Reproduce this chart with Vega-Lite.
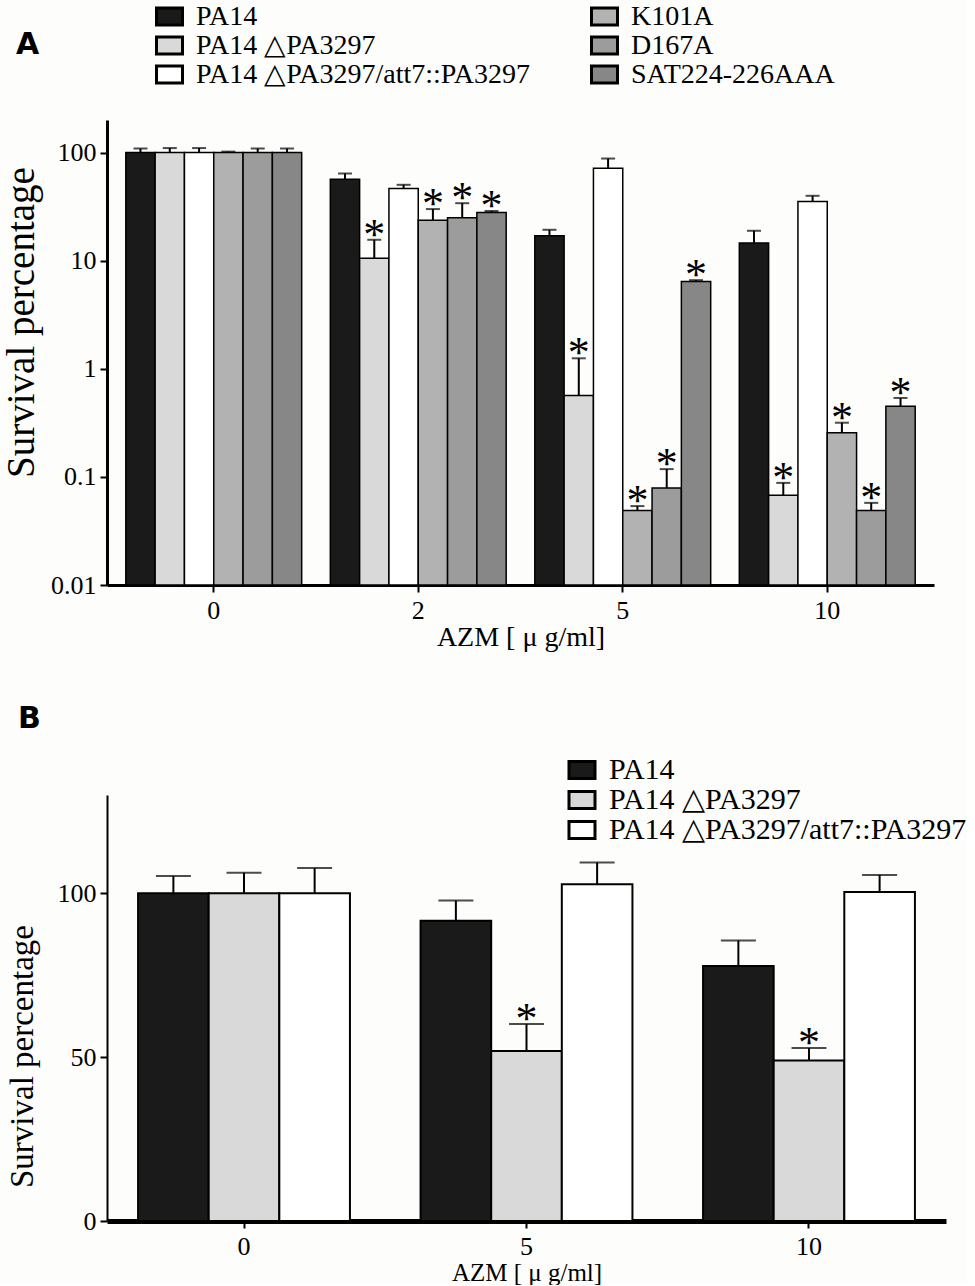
{
 "$schema": "https://vega.github.io/schema/vega-lite/v6.json",
 "background": "#fdfdfb",
 "padding": {"left": 2, "top": 2, "right": 0, "bottom": 0},
 "spacing": 53,
 "resolve": {"scale": {"x": "independent", "y": "independent", "xOffset": "independent", "color": "independent"}, "legend": {"color": "independent"}, "axis": {"x": "independent", "y": "independent"}},
 "config": {
  "view": {"stroke": null},
  "font": "Liberation Serif",
  "axis": {"grid": false, "domainColor": "black", "tickColor": "black", "labelColor": "black", "titleColor": "black", "labelFont": "Liberation Serif", "titleFont": "Liberation Serif", "titleFontWeight": "normal"},
  "legend": {"labelFont": "Liberation Serif", "labelColor": "black", "labelLimit": 0}
 },
 "datasets": {
  "a": [
   {"dose": "0", "strain": "PA14", "value": 100, "upper": 109, "sig": false},
   {"dose": "0", "strain": "PA14 △PA3297", "value": 100, "upper": 110, "sig": false},
   {"dose": "0", "strain": "PA14 △PA3297/att7::PA3297", "value": 100, "upper": 110, "sig": false},
   {"dose": "0", "strain": "K101A", "value": 100, "upper": 102, "sig": false},
   {"dose": "0", "strain": "D167A", "value": 100, "upper": 109, "sig": false},
   {"dose": "0", "strain": "SAT224-226AAA", "value": 100, "upper": 109, "sig": false},
   {"dose": "2", "strain": "PA14", "value": 56.7, "upper": 64, "sig": false},
   {"dose": "2", "strain": "PA14 △PA3297", "value": 10.5, "upper": 15.6, "sig": true},
   {"dose": "2", "strain": "PA14 △PA3297/att7::PA3297", "value": 46.5, "upper": 50.3, "sig": false},
   {"dose": "2", "strain": "K101A", "value": 23.7, "upper": 30, "sig": true},
   {"dose": "2", "strain": "D167A", "value": 24.9, "upper": 34, "sig": true},
   {"dose": "2", "strain": "SAT224-226AAA", "value": 27.9, "upper": 28.8, "sig": true},
   {"dose": "5", "strain": "PA14", "value": 17, "upper": 19.3, "sig": false},
   {"dose": "5", "strain": "PA14 △PA3297", "value": 0.566, "upper": 1.25, "sig": true},
   {"dose": "5", "strain": "PA14 △PA3297/att7::PA3297", "value": 71.6, "upper": 88, "sig": false},
   {"dose": "5", "strain": "K101A", "value": 0.049, "upper": 0.0537, "sig": true},
   {"dose": "5", "strain": "D167A", "value": 0.079, "upper": 0.118, "sig": true},
   {"dose": "5", "strain": "SAT224-226AAA", "value": 6.4, "upper": 6.6, "sig": true},
   {"dose": "10", "strain": "PA14", "value": 14.6, "upper": 18.9, "sig": false},
   {"dose": "10", "strain": "PA14 △PA3297", "value": 0.0676, "upper": 0.088, "sig": true},
   {"dose": "10", "strain": "PA14 △PA3297/att7::PA3297", "value": 35.3, "upper": 39.8, "sig": false},
   {"dose": "10", "strain": "K101A", "value": 0.256, "upper": 0.317, "sig": true},
   {"dose": "10", "strain": "D167A", "value": 0.049, "upper": 0.0575, "sig": true},
   {"dose": "10", "strain": "SAT224-226AAA", "value": 0.449, "upper": 0.537, "sig": true}
  ],
  "b": [
   {"dose": "0", "strain": "PA14", "value": 100, "upper": 105.3, "sig": false},
   {"dose": "0", "strain": "PA14 △PA3297", "value": 100, "upper": 106.3, "sig": false},
   {"dose": "0", "strain": "PA14 △PA3297/att7::PA3297", "value": 100, "upper": 107.7, "sig": false},
   {"dose": "5", "strain": "PA14", "value": 91.6, "upper": 97.8, "sig": false},
   {"dose": "5", "strain": "PA14 △PA3297", "value": 51.9, "upper": 60.1, "sig": true},
   {"dose": "5", "strain": "PA14 △PA3297/att7::PA3297", "value": 102.8, "upper": 109.4, "sig": false},
   {"dose": "10", "strain": "PA14", "value": 77.8, "upper": 85.6, "sig": false},
   {"dose": "10", "strain": "PA14 △PA3297", "value": 49.0, "upper": 52.8, "sig": true},
   {"dose": "10", "strain": "PA14 △PA3297/att7::PA3297", "value": 100.4, "upper": 105.6, "sig": false}
  ]
 },
 "vconcat": [
  {
   "width": 827,
   "height": 465,
   "data": {"name": "a"},
   "encoding": {
    "x": {"field": "dose", "type": "nominal", "sort": ["0", "2", "5", "10"], "scale": {"paddingInner": 0.14, "paddingOuter": 0.092},
     "axis": {"title": "AZM [ μ g/ml]", "labelAngle": 0, "labelFontSize": 26, "titleFontSize": 28, "domainWidth": 3, "tickWidth": 2, "tickSize": 7, "labelPadding": 5, "titlePadding": 0}},
    "xOffset": {"field": "strain", "type": "nominal", "sort": ["PA14", "PA14 △PA3297", "PA14 △PA3297/att7::PA3297", "K101A", "D167A", "SAT224-226AAA"], "scale": {"paddingInner": 0, "paddingOuter": 0}}
   },
   "layer": [
    {
     "mark": {"type": "bar", "stroke": "black", "strokeWidth": 1.5},
     "encoding": {
      "y": {"field": "value", "type": "quantitative", "stack": null, "scale": {"type": "log", "domain": [0.01, 200], "nice": false, "zero": false},
       "axis": {"title": "Survival percentage", "values": [0.01, 0.1, 1, 10, 100], "format": "~g", "labelFontSize": 26, "titleFontSize": 39, "titleY": 202, "domainWidth": 3, "tickWidth": 2, "tickSize": 7, "labelPadding": 4, "titlePadding": 9}},
      "color": {"field": "strain", "type": "nominal",
       "scale": {"domain": ["PA14", "PA14 △PA3297", "PA14 △PA3297/att7::PA3297", "K101A", "D167A", "SAT224-226AAA"], "range": ["#1a1a1a", "#d9d9d9", "#ffffff", "#b2b2b2", "#9c9c9c", "#878787"]},
       "legend": {"orient": "none", "legendX": -91, "legendY": -118, "columns": 2, "title": "A", "titleOrient": "left", "titleAnchor": "middle", "titleFont": "DejaVu Sans", "titleFontWeight": "bold", "titleFontSize": 30, "titleColor": "black", "titlePadding": 115, "labelFontSize": 28, "symbolType": "M-1,-0.65H1V0.65H-1Z", "symbolSize": 676, "symbolStrokeColor": "black", "symbolStrokeWidth": 3, "labelOffset": 12, "rowPadding": 0, "columnPadding": 55, "padding": 0}}
     }
    },
    {
     "mark": {"type": "rule", "color": "black", "strokeWidth": 2},
     "encoding": {"y": {"field": "value", "type": "quantitative"}, "y2": {"field": "upper"}}
    },
    {
     "mark": {"type": "tick", "color": "black", "size": 14, "thickness": 2},
     "encoding": {"y": {"field": "upper", "type": "quantitative"}}
    },
    {
     "transform": [{"filter": "datum.sig"}],
     "mark": {"type": "text", "text": "*", "fontSize": 44, "font": "Liberation Serif", "baseline": "alphabetic", "dy": 9, "color": "black"},
     "encoding": {"y": {"field": "upper", "type": "quantitative"}}
    }
   ]
  },
  {
   "width": 839,
   "height": 426,
   "title": {"text": "B", "anchor": "start", "frame": "bounds", "font": "DejaVu Sans", "fontWeight": "bold", "fontSize": 30, "offset": -9, "dx": 12, "baseline": "bottom", "color": "black"},
   "data": {"name": "b"},
   "encoding": {
    "x": {"field": "dose", "type": "nominal", "sort": ["0", "5", "10"], "scale": {"paddingInner": 0.25, "paddingOuter": 0.11},
     "axis": {"title": "AZM [ μ g/ml]", "labelAngle": 0, "labelFontSize": 26, "titleFontSize": 25, "domainWidth": 5, "tickWidth": 2, "tickSize": 7, "labelPadding": 5, "titlePadding": 1}},
    "xOffset": {"field": "strain", "type": "nominal", "sort": ["PA14", "PA14 △PA3297", "PA14 △PA3297/att7::PA3297"], "scale": {"paddingInner": 0, "paddingOuter": 0}}
   },
   "layer": [
    {
     "mark": {"type": "bar", "stroke": "black", "strokeWidth": 2},
     "encoding": {
      "y": {"field": "value", "type": "quantitative", "stack": null, "scale": {"domain": [0, 130], "nice": false},
       "axis": {"title": "Survival percentage", "values": [0, 50, 100], "labelFontSize": 26, "titleFontSize": 33, "titleY": 261, "domainWidth": 2, "tickWidth": 2, "tickSize": 7, "labelPadding": 4, "titlePadding": 18}},
      "color": {"field": "strain", "type": "nominal",
       "scale": {"domain": ["PA14", "PA14 △PA3297", "PA14 △PA3297/att7::PA3297"], "range": ["#1a1a1a", "#d9d9d9", "#ffffff"]},
       "legend": {"orient": "none", "legendX": 460, "legendY": -40, "title": null, "labelFontSize": 30, "symbolType": "M-1,-0.65H1V0.65H-1Z", "symbolSize": 676, "symbolStrokeColor": "black", "symbolStrokeWidth": 3, "labelOffset": 12, "rowPadding": -1, "padding": 0}}
     }
    },
    {
     "mark": {"type": "rule", "color": "black", "strokeWidth": 2},
     "encoding": {"y": {"field": "value", "type": "quantitative"}, "y2": {"field": "upper"}}
    },
    {
     "mark": {"type": "tick", "color": "black", "size": 35, "thickness": 2},
     "encoding": {"y": {"field": "upper", "type": "quantitative"}}
    },
    {
     "transform": [{"filter": "datum.sig"}],
     "mark": {"type": "text", "text": "*", "fontSize": 44, "font": "Liberation Serif", "baseline": "alphabetic", "dy": 9, "color": "black"},
     "encoding": {"y": {"field": "upper", "type": "quantitative"}}
    }
   ]
  }
 ]
}
